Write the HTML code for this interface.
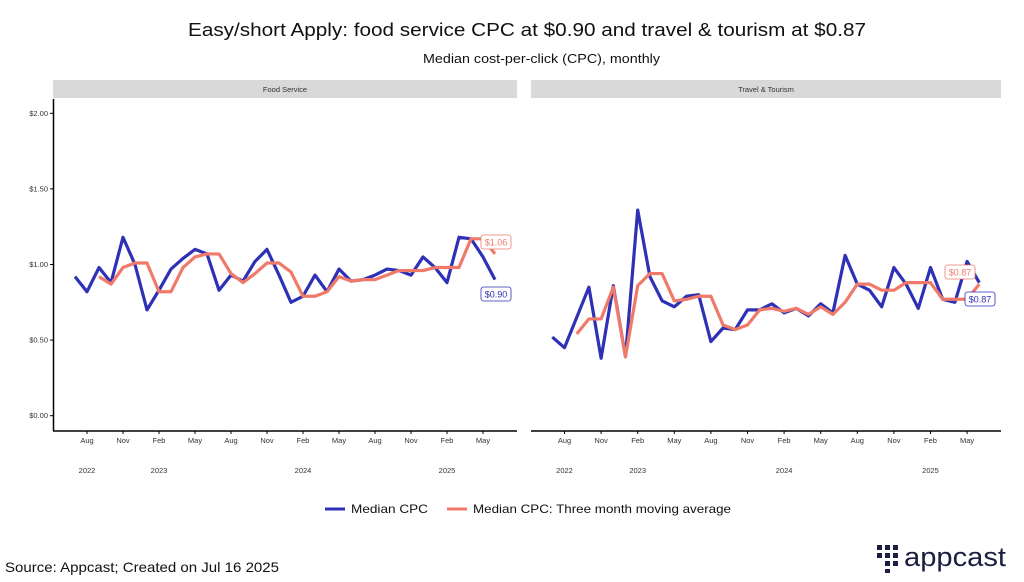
<!DOCTYPE html>
<html><head><meta charset="utf-8"><style>
html,body{margin:0;padding:0;background:#fff;}
svg{display:block;font-family:"Liberation Sans",sans-serif;}
</style></head><body>
<svg id="s" width="1024" height="582" viewBox="0 0 1024 582" xmlns="http://www.w3.org/2000/svg">
<rect width="1024" height="582" fill="#fff"/>
<text x="188" y="36" font-size="18" textLength="678" lengthAdjust="spacingAndGlyphs" fill="#111">Easy/short Apply: food service CPC at $0.90 and travel &amp; tourism at $0.87</text>
<text x="423" y="63" font-size="13" textLength="237" lengthAdjust="spacingAndGlyphs" fill="#111">Median cost-per-click (CPC), monthly</text>
<rect x="53" y="80" width="464" height="18" fill="#d9d9d9"/>
<rect x="531" y="80" width="470" height="18" fill="#d9d9d9"/>
<text x="285" y="92" font-size="7.5" text-anchor="middle" fill="#333">Food Service</text>
<text x="766" y="92" font-size="7.5" text-anchor="middle" fill="#333">Travel &amp; Tourism</text>
<line x1="53.5" y1="99" x2="53.5" y2="431" stroke="#000" stroke-width="1.5"/>
<line x1="53" y1="431" x2="517" y2="431" stroke="#000" stroke-width="1.5"/>
<line x1="531" y1="431" x2="1001" y2="431" stroke="#000" stroke-width="1.5"/>
<g id="g"></g>
<line x1="325" y1="509" x2="345" y2="509" stroke="#2e30b5" stroke-width="3"/>
<text x="351" y="513" font-size="12" textLength="77" lengthAdjust="spacingAndGlyphs" fill="#111">Median CPC</text>
<line x1="447" y1="509" x2="467" y2="509" stroke="#f07a6a" stroke-width="3"/>
<text x="473" y="513" font-size="12" textLength="258" lengthAdjust="spacingAndGlyphs" fill="#111">Median CPC: Three month moving average</text>
<text x="5" y="572" font-size="14" textLength="274" lengthAdjust="spacingAndGlyphs" fill="#111">Source: Appcast; Created on Jul 16 2025</text>
<g fill="#1c1d40">
<rect x="877" y="545" width="5" height="5"/><rect x="885" y="545" width="5" height="5"/><rect x="893" y="545" width="5" height="5"/>
<rect x="877" y="553" width="5" height="5"/><rect x="885" y="553" width="5" height="5"/><rect x="893" y="553" width="5" height="5"/>
<rect x="885" y="561" width="5" height="5"/><rect x="893" y="561" width="5" height="5"/><rect x="885" y="569" width="5" height="4"/>
<text x="904" y="566" font-size="27" textLength="102" lengthAdjust="spacingAndGlyphs">appcast</text>
</g>
</svg>
<script>
var g=document.getElementById('g');var h='';
function Y(v){return 415.7-151.2*v;}
var ylab=[[2,'$2.00'],[1.5,'$1.50'],[1,'$1.00'],[0.5,'$0.50'],[0,'$0.00']];
ylab.forEach(function(a){var y=Y(a[0]);h+='<line x1="50" y1="'+y+'" x2="53" y2="'+y+'" stroke="#000"/>';
h+='<text x="48" y="'+(y+2.5)+'" font-size="7.5" text-anchor="end" fill="#333">'+a[1]+'</text>';});
var m=['Aug','Nov','Feb','May','Aug','Nov','Feb','May','Aug','Nov','Feb','May'];
function panel(x0,dx,b,o){
 for(var k=0;k<12;k++){var x=x0+dx*(1+3*k);h+='<line x1="'+x+'" y1="431" x2="'+x+'" y2="434" stroke="#000"/>';
 h+='<text x="'+x+'" y="443" font-size="7.5" text-anchor="middle" fill="#333">'+m[k]+'</text>';}
 [[1,'2022'],[7,'2023'],[19,'2024'],[31,'2025']].forEach(function(a){h+='<text x="'+(x0+dx*a[0])+'" y="473" font-size="7.5" text-anchor="middle" fill="#333">'+a[1]+'</text>';});
 var p=b.map(function(v,i){return (x0+dx*i)+','+Y(v);}).join(' ');
 var q=o.map(function(v,i){return (x0+dx*(i+2))+','+Y(v);}).join(' ');
 h+='<polyline points="'+p+'" fill="none" stroke="#2e30b5" stroke-width="3.2" stroke-linejoin="round"/>';
 h+='<polyline points="'+q+'" fill="none" stroke="#f07a6a" stroke-width="3.2" stroke-linejoin="round"/>';
}
panel(75,12.0,[.92,.82,.98,.88,1.18,1.0,.70,.83,.97,1.04,1.10,1.07,.83,.93,.89,1.02,1.10,.93,.75,.79,.93,.82,.97,.89,.90,.93,.97,.96,.93,1.05,.98,.88,1.18,1.17,1.05,.90],
[.92,.87,.98,1.01,1.01,.82,.82,.98,1.05,1.07,1.07,.94,.88,.94,1.01,1.01,.95,.79,.79,.82,.92,.89,.90,.90,.93,.96,.96,.96,.98,.98,.98,1.17,1.17,1.07]);
panel(552.3,12.2,[.52,.45,.65,.85,.38,.86,.39,1.36,.92,.76,.72,.79,.80,.49,.58,.57,.70,.70,.74,.68,.71,.66,.74,.68,1.06,.87,.83,.72,.98,.87,.71,.98,.77,.75,1.02,.88],
[.54,.64,.64,.85,.39,.86,.94,.94,.76,.77,.79,.79,.60,.57,.60,.70,.71,.69,.71,.67,.72,.67,.75,.87,.87,.83,.83,.88,.88,.88,.77,.77,.77,.87]);
function lab(cx,cy,t,c){h+='<rect x="'+(cx-15)+'" y="'+(cy-7)+'" width="30" height="14" rx="2.5" fill="#fff" stroke="'+c+'" stroke-width="0.8"/>';
h+='<text x="'+cx+'" y="'+(cy+3.5)+'" font-size="9" text-anchor="middle" fill="'+c+'">'+t+'</text>';}
lab(496,242,'$1.06','#f07a6a');lab(496,294,'$0.90','#2e30b5');
lab(960,272,'$0.87','#f07a6a');lab(980,299,'$0.87','#2e30b5');
g.innerHTML=h;
</script>
</body></html>
